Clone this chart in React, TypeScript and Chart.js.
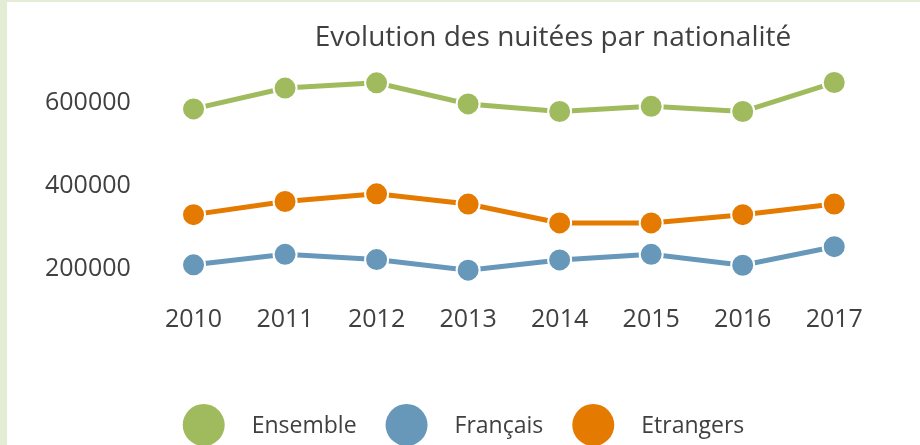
import React, { useEffect, useRef } from "react";
import { Chart, registerables } from "chart.js";

Chart.register(...registerables);

const years = ["2010", "2011", "2012", "2013", "2014", "2015", "2016", "2017"];
const ensemble = [585000, 635000, 647600, 596900, 578600, 591200, 578600, 648300];
const francais = [210500, 235700, 223100, 197600, 222200, 235700, 209500, 254000];
const etrangers = [331000, 362600, 381000, 356400, 311200, 311200, 331000, 356400];
const yTicks = [200000, 400000, 600000];
const seriesNames = ["Ensemble", "Français", "Etrangers"];
const seriesColors = ["#a0bb5d", "#6798ba", "#e47a00"];
const titleText = "Evolution des nuitées par nationalité";

const FONT = "'Open Sans', sans-serif";
const TEXT = "#404040";

const customPlugin = {
  id: "customTitleLegend",
  afterDraw(chart: any) {
    const ctx = chart.ctx;
    ctx.save();
    // title
    ctx.fillStyle = TEXT;
    ctx.font = `28px ${FONT}`;
    ctx.textAlign = "center";
    ctx.textBaseline = "middle";
    ctx.fillText(titleText, chart.width * 0.598, 36);
    // legend
    ctx.font = `23px ${FONT}`;
    const r = 21;
    const gapText = 27;
    const gapItem = 29;
    const items = chart.data.datasets.map((d: any) => ({
      label: d.label,
      color: d.borderColor,
      w: ctx.measureText(d.label).width,
    }));
    let total = 0;
    items.forEach((it: any, i: number) => {
      total += 2 * r + gapText + it.w + (i < items.length - 1 ? gapItem : 0);
    });
    let x = chart.width / 2 - total / 2;
    const cy = chart.height - 20;
    ctx.textAlign = "left";
    items.forEach((it: any) => {
      ctx.beginPath();
      ctx.fillStyle = it.color;
      ctx.arc(x + r, cy, r, 0, Math.PI * 2);
      ctx.fill();
      ctx.fillStyle = TEXT;
      ctx.fillText(it.label, x + 2 * r + gapText, cy + 1);
      x += 2 * r + gapText + it.w + gapItem;
    });
    ctx.restore();
  },
};

export default function App() {
  const ref = useRef<HTMLCanvasElement>(null);
  useEffect(() => {
    if (!ref.current) return;
    const series = [ensemble, francais, etrangers];
    const chart = new Chart(ref.current, {
      type: "line",
      data: {
        labels: years,
        datasets: series.map((s, i) => ({
          label: seriesNames[i],
          data: s,
          borderColor: seriesColors[i],
          backgroundColor: seriesColors[i],
          pointBackgroundColor: seriesColors[i],
          pointBorderColor: "#ffffff",
          pointBorderWidth: 2,
          pointRadius: 11.5,
          borderWidth: 5,
          tension: 0,
          fill: false,
        })),
      },
      options: {
        animation: false,
        responsive: false,
        maintainAspectRatio: false,
        layout: { padding: { top: 59, bottom: 95, left: 21, right: 40 } },
        plugins: {
          legend: { display: false },
          title: { display: false },
          tooltip: { enabled: false },
        },
        scales: {
          x: {
            offset: true,
            grid: { display: false, drawTicks: false },
            border: { display: false },
            ticks: { color: TEXT, font: { family: FONT, size: 25 }, padding: 15 },
          },
          y: {
            min: 150000,
            max: 700000,
            grid: { display: false, drawTicks: false },
            border: { display: false },
            afterBuildTicks: (scale: any) => {
              scale.ticks = yTicks.map((v) => ({ value: v }));
            },
            ticks: {
              color: TEXT,
              font: { family: FONT, size: 25 },
              padding: 17,
              callback: (v: any) => String(v),
            },
          },
        },
      },
      plugins: [customPlugin],
    });
    return () => chart.destroy();
  }, []);
  return (
    <div
      style={{
        position: "fixed",
        left: 0,
        top: 0,
        width: 920,
        height: 445,
        boxSizing: "border-box",
        borderLeft: "7px solid #e3ecd5",
        borderTop: "2px solid #e3ecd5",
        background: "#ffffff",
      }}
    >
      <canvas ref={ref} width={913} height={443} style={{ display: "block" }} />
    </div>
  );
}
